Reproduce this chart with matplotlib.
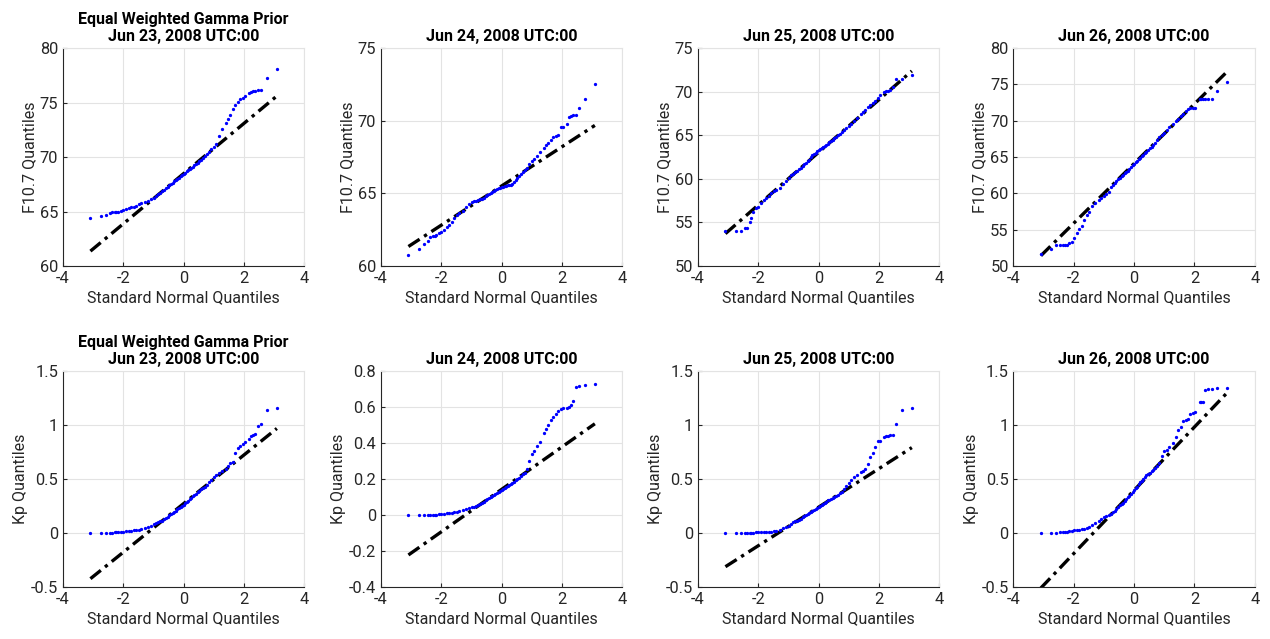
import numpy as np
import matplotlib
matplotlib.use('Agg')
import matplotlib.pyplot as plt
from matplotlib.ticker import FuncFormatter
from statistics import NormalDist

plt.rcParams['font.family'] = ['Roboto', 'DejaVu Sans']
plt.rcParams['axes.unicode_minus'] = False

# ensemble size and the order statistics kept for each sample
n_samples = 500
ranks = [1, 2, 3, 4, 5, 6, 7, 8, 10, 12, 15, 18, 21, 25, 30, 35, 40,
         50, 60, 70, 80, 90, 100, 110, 120, 130, 140,
         150, 160, 170, 180, 190, 200, 210, 220, 230, 240,
         250, 260, 270, 280, 290, 300, 310, 320, 330, 340,
         350, 360, 370, 380, 390, 400, 410, 420, 430, 440, 450,
         460, 465, 470, 475, 479, 482, 485, 488, 490,
         493, 494, 495, 496, 497, 498, 499, 500]

dates = ["Jun 23, 2008 UTC:00", "Jun 24, 2008 UTC:00",
         "Jun 25, 2008 UTC:00", "Jun 26, 2008 UTC:00"]

# sorted F10.7 samples
f107_jun23 = [64.45, 64.57, 64.68, 64.85, 64.92, 64.97, 64.98, 65.0, 65.02, 65.1, 65.2, 65.3, 65.38, 65.45, 65.55, 65.68, 65.75,
              65.88, 66.0, 66.12, 66.28, 66.43, 66.58, 66.72, 66.86, 66.99, 67.16,
              67.29, 67.42, 67.54, 67.66, 67.78, 67.89, 68.0, 68.12, 68.23, 68.35,
              68.46, 68.57, 68.68, 68.79, 68.9, 69.01, 69.12, 69.24, 69.36, 69.49,
              69.62, 69.76, 69.94, 70.12, 70.3, 70.5, 70.7, 70.92, 71.2, 71.95, 72.6,
              73.1, 73.5, 73.9, 74.4, 74.8, 75.1, 75.3, 75.45, 75.6, 75.85, 75.95, 76.05, 76.1, 76.15, 76.2, 77.25, 78.1]
f107_jun24 = [60.78, 61.15, 61.5, 61.75, 62.0, 62.05, 62.08, 62.12, 62.25, 62.35, 62.5, 62.7, 62.85, 63.05, 63.3, 63.5, 63.65,
              63.8, 64.05, 64.25, 64.38, 64.45, 64.5, 64.55, 64.58, 64.62, 64.7,
              64.8, 64.9, 64.98, 65.05, 65.12, 65.18, 65.24, 65.3, 65.35, 65.4,
              65.43, 65.47, 65.5, 65.53, 65.56, 65.58, 65.6, 65.65, 65.78, 65.9,
              66.05, 66.2, 66.35, 66.48, 66.6, 66.72, 67.05, 67.2, 67.35, 67.6, 67.85,
              68.15, 68.35, 68.5, 68.65, 68.85, 68.92, 69.0, 69.55, 69.6, 69.8, 70.25, 70.35, 70.4, 70.4, 70.85, 71.5, 72.5]
f107_jun25 = [54.0, 54.05, 54.05, 54.35, 54.4, 55.0, 55.5, 56.2, 56.7, 56.75, 57.25, 57.55, 57.8, 58.05, 58.35, 58.6, 58.75,
              59.0, 59.45, 59.8, 60.1, 60.45, 60.6, 60.75, 60.9, 61.1, 61.3,
              61.5, 61.65, 61.8, 62.0, 62.2, 62.5, 62.75, 62.9, 63.0, 63.15,
              63.3, 63.45, 63.55, 63.65, 63.75, 63.85, 64.0, 64.2, 64.35, 64.5,
              64.65, 64.82, 65.0, 65.15, 65.35, 65.6, 65.85, 66.05, 66.3, 66.6, 67.0,
              67.4, 67.65, 67.9, 68.2, 68.45, 68.65, 68.9, 69.3, 69.65, 70.0, 70.05, 70.1, 70.2, 70.5, 71.45, 71.5, 71.9]
f107_jun26 = [51.7, 52.4, 52.85, 52.9, 52.9, 52.9, 52.95, 53.2, 53.35, 53.9, 54.5, 55.1, 55.5, 56.3, 57.0, 57.5, 58.2,
              58.7, 59.1, 59.4, 59.7, 59.95, 60.2, 60.9, 61.2, 61.45, 61.7,
              61.95, 62.15, 62.35, 62.55, 62.75, 62.95, 63.15, 63.4, 63.65, 63.9,
              64.1, 64.3, 64.5, 64.7, 64.9, 65.1, 65.3, 65.5, 65.75, 65.98,
              66.2, 66.45, 66.72, 67.0, 67.3, 67.75, 68.1, 68.35, 68.7, 69.1, 69.5,
              69.95, 70.3, 70.6, 70.95, 71.4, 71.55, 71.7, 71.75, 71.8, 72.95, 72.95, 72.95, 72.95, 72.95, 72.95, 74.15, 75.35]

# sorted Kp samples
kp_jun23 = [0.0, 0.0, 0.002, 0.003, 0.004, 0.005, 0.006, 0.008, 0.01, 0.012, 0.015, 0.018, 0.022, 0.026, 0.028, 0.03, 0.034,
            0.045, 0.055, 0.068, 0.08, 0.09, 0.1, 0.108, 0.115, 0.125, 0.138,
            0.15, 0.163, 0.175, 0.186, 0.197, 0.208, 0.218, 0.229, 0.24, 0.252,
            0.263, 0.275, 0.288, 0.3, 0.313, 0.326, 0.339, 0.352, 0.365, 0.378,
            0.391, 0.404, 0.417, 0.43, 0.447, 0.468, 0.49, 0.515, 0.54, 0.555, 0.57,
            0.595, 0.62, 0.645, 0.66, 0.74, 0.79, 0.81, 0.825, 0.84, 0.87, 0.9, 0.905, 0.913, 0.995, 1.005, 1.14, 1.157]
kp_jun24 = [0.001, 0.001, 0.001, 0.001, 0.001, 0.001, 0.002, 0.002, 0.004, 0.006, 0.008, 0.009, 0.01, 0.012, 0.015, 0.018, 0.021,
            0.027, 0.034, 0.04, 0.044, 0.047, 0.051, 0.055, 0.059, 0.066, 0.073,
            0.081, 0.088, 0.095, 0.101, 0.107, 0.113, 0.119, 0.124, 0.129, 0.134,
            0.139, 0.144, 0.15, 0.156, 0.162, 0.168, 0.174, 0.18, 0.186, 0.193,
            0.2, 0.208, 0.217, 0.226, 0.236, 0.255, 0.3, 0.34, 0.355, 0.385, 0.405,
            0.455, 0.48, 0.5, 0.525, 0.545, 0.56, 0.58, 0.59, 0.592, 0.596, 0.6, 0.61, 0.632, 0.71, 0.716, 0.72, 0.728]
kp_jun25 = [0.0, 0.0, 0.001, 0.002, 0.002, 0.003, 0.003, 0.004, 0.005, 0.006, 0.008, 0.009, 0.01, 0.012, 0.013, 0.015, 0.018,
            0.03, 0.042, 0.055, 0.067, 0.085, 0.1, 0.108, 0.114, 0.123, 0.134,
            0.145, 0.157, 0.168, 0.178, 0.187, 0.196, 0.205, 0.213, 0.222, 0.231,
            0.24, 0.249, 0.258, 0.266, 0.274, 0.29, 0.302, 0.31, 0.318, 0.326,
            0.334, 0.342, 0.352, 0.366, 0.381, 0.405, 0.435, 0.465, 0.49, 0.515, 0.54,
            0.565, 0.578, 0.595, 0.64, 0.7, 0.745, 0.795, 0.85, 0.852, 0.888, 0.897, 0.9, 0.904, 0.91, 1.005, 1.142, 1.16]
kp_jun26 = [0.0, 0.003, 0.004, 0.006, 0.009, 0.01, 0.012, 0.015, 0.022, 0.026, 0.028, 0.03, 0.033, 0.037, 0.045, 0.06, 0.075,
            0.095, 0.115, 0.13, 0.145, 0.158, 0.17, 0.18, 0.19, 0.205, 0.222,
            0.24, 0.256, 0.27, 0.282, 0.297, 0.313, 0.329, 0.345, 0.36, 0.377,
            0.395, 0.412, 0.43, 0.45, 0.468, 0.483, 0.5, 0.518, 0.535, 0.548,
            0.56, 0.575, 0.585, 0.6, 0.62, 0.645, 0.715, 0.755, 0.77, 0.8, 0.835,
            0.89, 0.95, 0.98, 1.04, 1.05, 1.058, 1.105, 1.114, 1.12, 1.213, 1.213, 1.213, 1.32, 1.336, 1.336, 1.34, 1.34]

f107_ylims = [(60, 80), (60, 75), (50, 75), (50, 80)]
kp_ylims = [(-0.5, 1.5), (-0.4, 0.8), (-0.5, 1.5), (-0.5, 1.5)]
kp_ysteps = [0.5, 0.2, 0.5, 0.5]

nd = NormalDist()
probs = (np.array(ranks) - 0.5) / n_samples
z = np.array([nd.inv_cdf(p) for p in probs])


def qq(ax, y, ylabel, ylim, ystep, title):
    y = np.array(y)
    # reference line through the first and third quartiles
    q1, q3 = np.interp([0.25, 0.75], probs, y)
    z1, z3 = nd.inv_cdf(0.25), nd.inv_cdf(0.75)
    slope = (q3 - q1) / (z3 - z1)
    zl = np.array([z.min(), z.max()])
    ax.plot(zl, q1 + slope * (zl - z1), color='k', lw=2.4,
            linestyle=(0, (4, 1.6, 1, 1.6)), zorder=3)
    ax.plot(z, y, '.', color='b', ms=2.7, zorder=4)
    ax.set_xlim(-4, 4)
    ax.set_ylim(*ylim)
    ax.set_xticks(np.arange(-4, 5, 2))
    ax.set_yticks(np.arange(ylim[0], ylim[1] + ystep / 2, ystep))
    ax.xaxis.set_major_formatter(FuncFormatter(lambda v, p: '%g' % round(v, 6)))
    ax.yaxis.set_major_formatter(FuncFormatter(lambda v, p: '%g' % round(v, 6)))
    ax.grid(True, color='#e3e3e3', lw=0.8)
    ax.set_axisbelow(True)
    for s in ['top', 'right']:
        ax.spines[s].set_color('#e3e3e3')
    for s in ['left', 'bottom']:
        ax.spines[s].set_color('#262626')
    ax.tick_params(direction='in', length=3, colors='#262626', labelsize=11.8)
    ax.set_xlabel('Standard Normal Quantiles', fontsize=11.5, color='#262626', labelpad=3)
    ax.set_ylabel(ylabel, fontsize=11.5, color='#262626', labelpad=2)
    ax.set_title(title, fontsize=11.5, fontweight='bold', pad=5)


fig = plt.figure(figsize=(12.7, 6.39), dpi=100)
lefts = [0.0496, 0.300, 0.5496, 0.798]
f107_data = [f107_jun23, f107_jun24, f107_jun25, f107_jun26]
kp_data = [kp_jun23, kp_jun24, kp_jun25, kp_jun26]

for i in range(4):
    title = dates[i]
    if i == 0:
        title = "Equal Weighted Gamma Prior\n" + dates[i]
    ax = fig.add_axes([lefts[i], 0.5837, 0.19, 0.341])
    qq(ax, f107_data[i], 'F10.7 Quantiles', f107_ylims[i], 5, title)
    ax = fig.add_axes([lefts[i], 0.0814, 0.19, 0.338])
    qq(ax, kp_data[i], 'Kp Quantiles', kp_ylims[i], kp_ysteps[i], title)

fig.savefig('out.png', dpi=100)
